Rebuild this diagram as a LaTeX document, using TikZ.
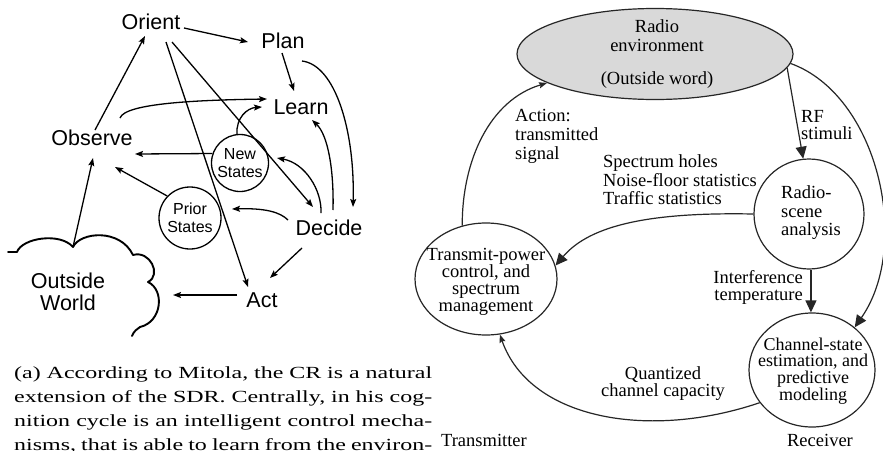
\documentclass[tikz,border=0pt]{standalone}
\usepackage{fontspec}
\setmainfont{Liberation Serif}
\newfontfamily\lsans{Liberation Sans}
\newfontfamily\capfont[FakeStretch=1.41]{Liberation Serif}
\usetikzlibrary{arrows.meta,shapes.geometric}

\begin{document}
\begin{tikzpicture}[x=1pt,y=-1pt,
  lbl/.style={inner sep=0pt, font=\lsans\fontsize{21.5}{22}\selectfont},
  stcirc/.style={circle, draw, line width=1.3pt, inner sep=0pt, align=center,
                 font=\lsans\fontsize{16}{18.5}\selectfont},
  larr/.style={line width=1.3pt, -{Stealth[length=8pt,width=6pt,inset=1.5pt]}},
  cloudline/.style={line width=1.9pt, line join=round, line cap=round},
  rl/.style={inner sep=0pt, font=\fontsize{18.5}{18.5}\selectfont},
  ell/.style={ellipse, draw=black!85, line width=1.2pt, inner sep=0pt},
  bigarr/.style={draw=black!85, line width=1.2pt, -{Triangle[length=12pt,width=11pt]}},
  smallarr/.style={draw=black!85, line width=1.2pt, -{Stealth[length=8pt,width=6pt,inset=1pt]}},
  capline/.style={anchor=base west, inner sep=0pt,
                  font=\capfont\fontsize{17}{24}\selectfont\frenchspacing},
]
\useasboundingbox (0,0) rectangle (883,450);
\fill[white] (0,0) rectangle (883,450);

% ---------------- cognition cycle (left) ----------------
\node[lbl] (orient)  at (151,22)  {Orient};
\node[lbl] (plan)    at (283,41)  {Plan};
\node[lbl] (learn)   at (301,107) {Learn};
\node[lbl] (observe) at (92,138)  {Observe};
\node[lbl] (decide)  at (329,228) {Decide};
\node[lbl] (act)     at (262,300) {Act};
\node[stcirc, minimum size=57pt] (new)   at (240,163) {New\\States};
\node[stcirc, minimum size=62pt] (prior) at (190,218) {Prior\\States};
\node[lbl, align=center] (world) at (68,292) {Outside\\World};

% cloud outline around the outside world
\draw[cloudline] (8,252) -- (17,252)
  .. controls (22,238) and (60,232) .. (73,247)
  .. controls (80,232) and (120,228) .. (133,255)
  .. controls (150,250) and (162,275) .. (148,282)
  .. controls (165,290) and (162,322) .. (140,327)
  .. controls (137,329) and (134,331) .. (132,336);
\coordinate (cusp) at (73,247);

\draw[larr] ([shift={(3,-8)}]observe.center) -- ([shift={(-6,14)}]orient.center);
\draw[larr] ([shift={(33,6)}]orient.center) -- ([shift={(-35,1)}]plan.center);
\draw[larr] ([shift={(-1,12)}]plan.center) -- ([shift={(-7,-16)}]learn.center);
\draw[larr] ([shift={(19,20)}]plan.center) .. controls (335,65) and (355,130) .. ([shift={(24,-21)}]decide.center);
\draw[larr] ([shift={(15,20)}]orient.center) -- ([shift={(-14,-13)}]act.center);
\draw[larr] ([shift={(21,20)}]orient.center) -- ([shift={(-16,-21)}]decide.center);
\draw[larr] ([shift={(28,-20)}]observe.center) .. controls (125,103) and (200,100) .. ([shift={(-34,-8)}]learn.center);
\draw[larr] (new.96) .. controls (236,118) and (247,108) .. ([shift={(-39,0)}]learn.center);
\draw[larr] (new.161) -- ([shift={(43,16)}]observe.center);
\draw[larr] (prior.136) -- ([shift={(23,29)}]observe.center);
\draw[larr] ([shift={(-41,-8)}]decide.center) .. controls (280,212) and (265,208) .. ([shift={(42,-9)}]prior.center);
\draw[larr] ([shift={(-8,-15)}]decide.center) .. controls (322,190) and (305,163) .. ([shift={(37,-5)}]new.center);
\draw[larr] ([shift={(4,-18)}]decide.center) .. controls (334,170) and (328,135) .. ([shift={(11,13)}]learn.center);
\draw[larr] ([shift={(-27,20)}]decide.center) -- ([shift={(8,-22)}]act.center);
\draw[larr] ([shift={(-25,-5)}]act.center) -- ([shift={(105,3)}]world.center);
\draw[larr] (cusp) -- ([shift={(1,20)}]observe.center);

% caption (its last line runs off the lower edge)
\node[capline] (cap1) at (14,378) {\makebox[418pt][s]{(a) According to Mitola, the CR is a natural}};
\node[capline] (cap2) at (14,402) {\makebox[418pt][s]{extension of the SDR. Centrally, in his cog-}};
\node[capline] (cap3) at (14,426) {\makebox[418pt][s]{nition cycle is an intelligent control mecha-}};
\node[capline] (cap4) at (14,450) {\makebox[418pt][s]{nisms, that is able to learn from the environ-}};

% ---------------- radio cycle (right) ----------------
\node[ell, fill=black!15, minimum width=276pt, minimum height=91pt] (env) at (655,54) {};
\node[rl, align=center, font=\fontsize{18.5}{19}\selectfont] (envtxt) at (657,54)
  {Radio\\environment\\[14pt](Outside word)};

\node[ell, minimum width=142pt, minimum height=112pt] (tr) at (486,279) {};
\node[rl, align=center, font=\fontsize{18.5}{16.8}\selectfont] (trtxt) at (486,282)
  {Transmit-power\\control, and\\spectrum\\management};

\node[ell, minimum width=110pt, minimum height=110pt] (rsa) at (809,214) {};
\node[rl, align=left, anchor=west, font=\fontsize{18.5}{18.5}\selectfont] (rsatxt) at (781,213)
  {Radio-\\scene\\analysis};

\node[ell, minimum width=126pt, minimum height=114pt] (ch) at (812,370) {};
\node[rl, align=center, font=\fontsize{18}{16.8}\selectfont] (chtxt) at (813,371)
  {Channel-state\\estimation, and\\predictive\\modeling};

\node[rl, align=left, anchor=west, font=\fontsize{18.5}{19}\selectfont] (action) at (515,136)
  {Action:\\transmitted\\signal};
\node[rl, align=left, anchor=west, font=\fontsize{18.5}{17}\selectfont] (rf) at (801,125)
  {RF\\stimuli};
\node[rl, align=left, anchor=west, font=\fontsize{18.5}{18.5}\selectfont] (spec) at (603,180)
  {Spectrum holes\\Noise-floor statistics\\Traffic statistics};
\node[rl, align=right, anchor=east, font=\fontsize{18.5}{17}\selectfont] (intf) at (803,287)
  {Interference\\temperature};
\node[rl, align=center, font=\fontsize{18.5}{17}\selectfont] (quant) at (663,384)
  {Quantized\\channel capacity};
\node[rl] (txr) at (484,440) {Transmitter};
\node[rl] (rxr) at (820,440) {Receiver};

\draw[smallarr] (tr.114) .. controls (462,160) and (490,100) .. (env.195);
\draw[bigarr] (env.-6) -- (rsa.96);
\draw[bigarr] (env.-4) .. controls (878,95) and (912,245) .. (ch.45);
\draw[bigarr] (rsa.180) .. controls (650,212) and (590,225) .. (tr.11);
\draw[bigarr] (rsa.-88) -- (rsa.-88 |- ch.north);
\draw[smallarr] (ch.212) .. controls (650,440) and (530,420) .. (tr.-76);
\end{tikzpicture}
\end{document}
